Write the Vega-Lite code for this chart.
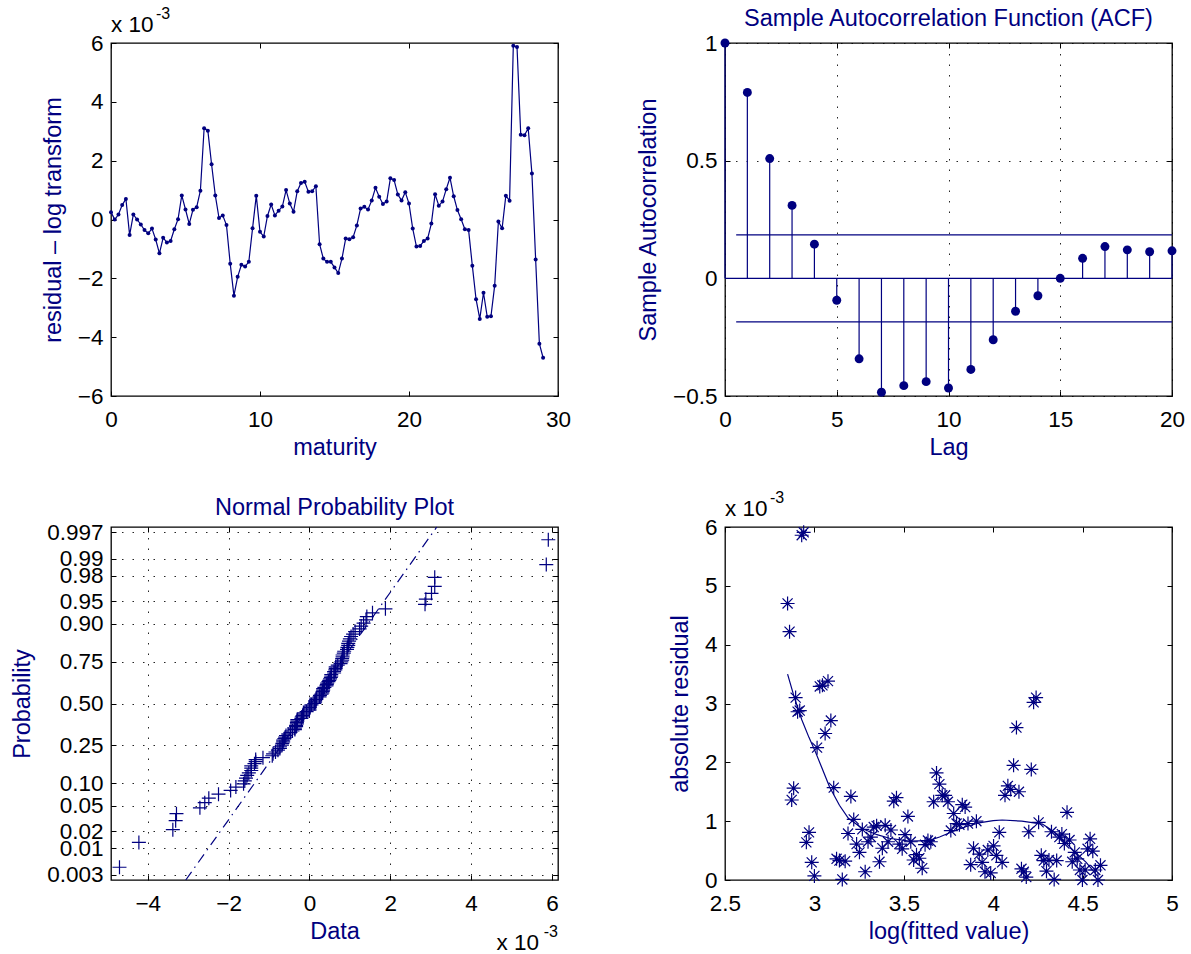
{
"$schema": "https://vega.github.io/schema/vega-lite/v6.json",
"background": "white",
"padding": {"left": 10, "top": 5, "right": 5, "bottom": 5},
"columns": 2,
"spacing": {"row": 131, "column": 167},
"bounds": "flush",
"config": {
  "font": "Liberation Sans",
  "view": {"stroke": "black", "strokeWidth": 1.3},
  "axis": {"domain": false, "labelFont": "Liberation Sans", "labelFontSize": 22.5, "labelColor": "black", "titleFont": "Liberation Sans", "titleFontSize": 23.5, "titleColor": "#000080", "titleFontWeight": "normal", "tickColor": "black", "tickSize": -5, "tickWidth": 1, "labelFlush": false, "labelOverlap": false, "labelBound": false, "grid": false, "gridColor": "black", "gridDash": [1.5, 9], "gridWidth": 1, "gridOpacity": 0.85},
  "axisX": {"labelPadding": 17, "titlePadding": 5},
  "axisY": {"labelPadding": 13, "titlePadding": 12},
  "title": {"font": "Liberation Sans", "fontSize": 23.5, "fontWeight": "normal", "color": "#000080", "offset": 2},
  "text": {"font": "Liberation Sans"}
},
"datasets": {
  "series": [
    {"maturity":0,"residual":0.25,"absres":0.25,"logfit":4.600},
    {"maturity":0.25,"residual":0.00,"absres":0.00,"logfit":4.586},
    {"maturity":0.5,"residual":0.17,"absres":0.17,"logfit":4.571},
    {"maturity":0.75,"residual":0.49,"absres":0.49,"logfit":4.557},
    {"maturity":1,"residual":0.70,"absres":0.70,"logfit":4.542},
    {"maturity":1.25,"residual":-0.53,"absres":0.53,"logfit":4.528},
    {"maturity":1.5,"residual":0.17,"absres":0.17,"logfit":4.514},
    {"maturity":1.75,"residual":0.00,"absres":0.00,"logfit":4.499},
    {"maturity":2,"residual":-0.17,"absres":0.17,"logfit":4.485},
    {"maturity":2.25,"residual":-0.36,"absres":0.36,"logfit":4.470},
    {"maturity":2.5,"residual":-0.47,"absres":0.47,"logfit":4.456},
    {"maturity":2.75,"residual":-0.31,"absres":0.31,"logfit":4.442},
    {"maturity":3,"residual":-0.68,"absres":0.68,"logfit":4.427},
    {"maturity":3.25,"residual":-1.15,"absres":1.15,"logfit":4.413},
    {"maturity":3.5,"residual":-0.62,"absres":0.62,"logfit":4.398},
    {"maturity":3.75,"residual":-0.78,"absres":0.78,"logfit":4.384},
    {"maturity":4,"residual":-0.73,"absres":0.73,"logfit":4.370},
    {"maturity":4.25,"residual":-0.33,"absres":0.33,"logfit":4.355},
    {"maturity":4.5,"residual":0.01,"absres":0.01,"logfit":4.341},
    {"maturity":4.75,"residual":0.82,"absres":0.82,"logfit":4.326},
    {"maturity":5,"residual":0.34,"absres":0.34,"logfit":4.312},
    {"maturity":5.25,"residual":-0.15,"absres":0.15,"logfit":4.298},
    {"maturity":5.5,"residual":0.33,"absres":0.33,"logfit":4.283},
    {"maturity":5.75,"residual":0.42,"absres":0.42,"logfit":4.269},
    {"maturity":6,"residual":0.98,"absres":0.98,"logfit":4.254},
    {"maturity":6.25,"residual":3.10,"absres":3.10,"logfit":4.240},
    {"maturity":6.5,"residual":3.02,"absres":3.02,"logfit":4.226},
    {"maturity":6.75,"residual":1.88,"absres":1.88,"logfit":4.213},
    {"maturity":7,"residual":0.82,"absres":0.82,"logfit":4.199},
    {"maturity":7.25,"residual":0.05,"absres":0.05,"logfit":4.185},
    {"maturity":7.5,"residual":0.14,"absres":0.14,"logfit":4.171},
    {"maturity":7.75,"residual":-0.19,"absres":0.19,"logfit":4.158},
    {"maturity":8,"residual":-1.50,"absres":1.50,"logfit":4.144},
    {"maturity":8.25,"residual":-2.59,"absres":2.59,"logfit":4.130},
    {"maturity":8.5,"residual":-1.95,"absres":1.95,"logfit":4.114},
    {"maturity":8.75,"residual":-1.54,"absres":1.54,"logfit":4.098},
    {"maturity":9,"residual":-1.60,"absres":1.60,"logfit":4.082},
    {"maturity":9.25,"residual":-1.44,"absres":1.44,"logfit":4.066},
    {"maturity":9.5,"residual":-0.30,"absres":0.30,"logfit":4.050},
    {"maturity":9.75,"residual":0.81,"absres":0.81,"logfit":4.034},
    {"maturity":10,"residual":-0.42,"absres":0.42,"logfit":4.018},
    {"maturity":10.25,"residual":-0.58,"absres":0.58,"logfit":4.002},
    {"maturity":10.5,"residual":0.12,"absres":0.12,"logfit":3.986},
    {"maturity":10.75,"residual":0.51,"absres":0.51,"logfit":3.970},
    {"maturity":11,"residual":0.14,"absres":0.14,"logfit":3.954},
    {"maturity":11.25,"residual":0.30,"absres":0.30,"logfit":3.938},
    {"maturity":11.5,"residual":0.44,"absres":0.44,"logfit":3.922},
    {"maturity":11.75,"residual":1.00,"absres":1.00,"logfit":3.906},
    {"maturity":12,"residual":0.54,"absres":0.54,"logfit":3.890},
    {"maturity":12.25,"residual":0.26,"absres":0.26,"logfit":3.874},
    {"maturity":12.5,"residual":0.96,"absres":0.96,"logfit":3.859},
    {"maturity":12.75,"residual":1.24,"absres":1.24,"logfit":3.843},
    {"maturity":13,"residual":1.28,"absres":1.28,"logfit":3.827},
    {"maturity":13.25,"residual":0.94,"absres":0.94,"logfit":3.811},
    {"maturity":13.5,"residual":0.96,"absres":0.96,"logfit":3.795},
    {"maturity":13.75,"residual":1.13,"absres":1.13,"logfit":3.779},
    {"maturity":14,"residual":-0.84,"absres":0.84,"logfit":3.763},
    {"maturity":14.25,"residual":-1.33,"absres":1.33,"logfit":3.747},
    {"maturity":14.5,"residual":-1.44,"absres":1.44,"logfit":3.731},
    {"maturity":14.75,"residual":-1.44,"absres":1.44,"logfit":3.715},
    {"maturity":15,"residual":-1.63,"absres":1.63,"logfit":3.699},
    {"maturity":15.25,"residual":-1.82,"absres":1.82,"logfit":3.683},
    {"maturity":15.5,"residual":-1.33,"absres":1.33,"logfit":3.667},
    {"maturity":15.75,"residual":-0.65,"absres":0.65,"logfit":3.651},
    {"maturity":16,"residual":-0.67,"absres":0.67,"logfit":3.635},
    {"maturity":16.25,"residual":-0.60,"absres":0.60,"logfit":3.619},
    {"maturity":16.5,"residual":-0.20,"absres":0.20,"logfit":3.603},
    {"maturity":16.75,"residual":0.37,"absres":0.37,"logfit":3.587},
    {"maturity":17,"residual":0.43,"absres":0.43,"logfit":3.571},
    {"maturity":17.25,"residual":0.34,"absres":0.34,"logfit":3.555},
    {"maturity":17.5,"residual":0.65,"absres":0.65,"logfit":3.539},
    {"maturity":17.75,"residual":1.08,"absres":1.08,"logfit":3.523},
    {"maturity":18,"residual":0.77,"absres":0.77,"logfit":3.507},
    {"maturity":18.25,"residual":0.53,"absres":0.53,"logfit":3.491},
    {"maturity":18.5,"residual":0.61,"absres":0.61,"logfit":3.475},
    {"maturity":18.75,"residual":1.40,"absres":1.40,"logfit":3.459},
    {"maturity":19,"residual":1.34,"absres":1.34,"logfit":3.444},
    {"maturity":19.25,"residual":0.85,"absres":0.85,"logfit":3.428},
    {"maturity":19.5,"residual":0.65,"absres":0.65,"logfit":3.412},
    {"maturity":19.75,"residual":0.93,"absres":0.93,"logfit":3.396},
    {"maturity":20,"residual":0.54,"absres":0.54,"logfit":3.380},
    {"maturity":20.25,"residual":-0.31,"absres":0.31,"logfit":3.364},
    {"maturity":20.5,"residual":-0.92,"absres":0.92,"logfit":3.348},
    {"maturity":20.75,"residual":-0.90,"absres":0.90,"logfit":3.332},
    {"maturity":21,"residual":-0.73,"absres":0.73,"logfit":3.316},
    {"maturity":21.25,"residual":-0.65,"absres":0.65,"logfit":3.300},
    {"maturity":21.5,"residual":-0.14,"absres":0.14,"logfit":3.284},
    {"maturity":21.75,"residual":0.86,"absres":0.86,"logfit":3.268},
    {"maturity":22,"residual":0.47,"absres":0.47,"logfit":3.252},
    {"maturity":22.25,"residual":0.61,"absres":0.61,"logfit":3.236},
    {"maturity":22.5,"residual":1.03,"absres":1.03,"logfit":3.220},
    {"maturity":22.75,"residual":1.42,"absres":1.42,"logfit":3.204},
    {"maturity":23,"residual":0.79,"absres":0.79,"logfit":3.188},
    {"maturity":23.25,"residual":0.32,"absres":0.32,"logfit":3.172},
    {"maturity":23.5,"residual":0.01,"absres":0.01,"logfit":3.156},
    {"maturity":23.75,"residual":-0.33,"absres":0.33,"logfit":3.140},
    {"maturity":24,"residual":-0.36,"absres":0.36,"logfit":3.124},
    {"maturity":24.25,"residual":-1.57,"absres":1.57,"logfit":3.108},
    {"maturity":24.5,"residual":-2.71,"absres":2.71,"logfit":3.092},
    {"maturity":24.75,"residual":-3.38,"absres":3.38,"logfit":3.076},
    {"maturity":25,"residual":-2.49,"absres":2.49,"logfit":3.060},
    {"maturity":25.25,"residual":-3.31,"absres":3.31,"logfit":3.045},
    {"maturity":25.5,"residual":-3.29,"absres":3.29,"logfit":3.030},
    {"maturity":25.75,"residual":-2.25,"absres":2.25,"logfit":3.015},
    {"maturity":26,"residual":-0.07,"absres":0.07,"logfit":3.000},
    {"maturity":26.25,"residual":-0.30,"absres":0.30,"logfit":2.985},
    {"maturity":26.5,"residual":0.81,"absres":0.81,"logfit":2.970},
    {"maturity":26.75,"residual":0.64,"absres":0.64,"logfit":2.955},
    {"maturity":27,"residual":5.91,"absres":5.91,"logfit":2.940},
    {"maturity":27.25,"residual":5.86,"absres":5.86,"logfit":2.929},
    {"maturity":27.5,"residual":2.88,"absres":2.88,"logfit":2.918},
    {"maturity":27.75,"residual":2.86,"absres":2.86,"logfit":2.906},
    {"maturity":28,"residual":3.10,"absres":3.10,"logfit":2.895},
    {"maturity":28.25,"residual":1.56,"absres":1.56,"logfit":2.884},
    {"maturity":28.5,"residual":-1.36,"absres":1.36,"logfit":2.873},
    {"maturity":28.75,"residual":-4.22,"absres":4.22,"logfit":2.861},
    {"maturity":29,"residual":-4.70,"absres":4.70,"logfit":2.850}
  ],
  "normal": [
    {"data":-4.70,"z":-2.630},{"data":-4.22,"z":-2.232},{"data":-3.38,"z":-2.026},{"data":-3.31,"z":-1.882},{"data":-3.29,"z":-1.769},
    {"data":-2.71,"z":-1.675},{"data":-2.59,"z":-1.593},{"data":-2.49,"z":-1.521},{"data":-2.25,"z":-1.456},{"data":-1.95,"z":-1.397},
    {"data":-1.82,"z":-1.342},{"data":-1.63,"z":-1.291},{"data":-1.60,"z":-1.243},{"data":-1.57,"z":-1.198},{"data":-1.54,"z":-1.156},
    {"data":-1.50,"z":-1.115},{"data":-1.44,"z":-1.076},{"data":-1.44,"z":-1.038},{"data":-1.44,"z":-1.002},{"data":-1.36,"z":-0.967},
    {"data":-1.33,"z":-0.934},{"data":-1.33,"z":-0.901},{"data":-1.15,"z":-0.870},{"data":-0.92,"z":-0.839},{"data":-0.90,"z":-0.809},
    {"data":-0.84,"z":-0.779},{"data":-0.78,"z":-0.750},{"data":-0.73,"z":-0.722},{"data":-0.73,"z":-0.695},{"data":-0.68,"z":-0.668},
    {"data":-0.67,"z":-0.641},{"data":-0.65,"z":-0.615},{"data":-0.65,"z":-0.589},{"data":-0.62,"z":-0.564},{"data":-0.60,"z":-0.539},
    {"data":-0.58,"z":-0.514},{"data":-0.53,"z":-0.490},{"data":-0.47,"z":-0.466},{"data":-0.42,"z":-0.442},{"data":-0.36,"z":-0.419},
    {"data":-0.36,"z":-0.396},{"data":-0.33,"z":-0.372},{"data":-0.33,"z":-0.350},{"data":-0.31,"z":-0.327},{"data":-0.31,"z":-0.304},
    {"data":-0.30,"z":-0.282},{"data":-0.30,"z":-0.260},{"data":-0.20,"z":-0.238},{"data":-0.19,"z":-0.216},{"data":-0.17,"z":-0.194},
    {"data":-0.15,"z":-0.172},{"data":-0.14,"z":-0.151},{"data":-0.07,"z":-0.129},{"data":0.00,"z":-0.107},{"data":0.00,"z":-0.086},
    {"data":0.01,"z":-0.064},{"data":0.01,"z":-0.043},{"data":0.05,"z":-0.021},{"data":0.12,"z":0},{"data":0.14,"z":0.021},
    {"data":0.14,"z":0.043},{"data":0.17,"z":0.064},{"data":0.17,"z":0.086},{"data":0.25,"z":0.107},{"data":0.26,"z":0.129},
    {"data":0.30,"z":0.151},{"data":0.32,"z":0.172},{"data":0.33,"z":0.194},{"data":0.34,"z":0.216},{"data":0.34,"z":0.238},
    {"data":0.37,"z":0.260},{"data":0.42,"z":0.282},{"data":0.43,"z":0.304},{"data":0.44,"z":0.327},{"data":0.47,"z":0.350},
    {"data":0.49,"z":0.372},{"data":0.51,"z":0.396},{"data":0.53,"z":0.419},{"data":0.54,"z":0.442},{"data":0.54,"z":0.466},
    {"data":0.61,"z":0.490},{"data":0.61,"z":0.514},{"data":0.64,"z":0.539},{"data":0.65,"z":0.564},{"data":0.65,"z":0.589},
    {"data":0.70,"z":0.615},{"data":0.77,"z":0.641},{"data":0.79,"z":0.668},{"data":0.81,"z":0.695},{"data":0.81,"z":0.722},
    {"data":0.82,"z":0.750},{"data":0.82,"z":0.779},{"data":0.85,"z":0.809},{"data":0.86,"z":0.839},{"data":0.93,"z":0.870},
    {"data":0.94,"z":0.901},{"data":0.96,"z":0.934},{"data":0.96,"z":0.967},{"data":0.98,"z":1.002},{"data":1.00,"z":1.038},
    {"data":1.03,"z":1.076},{"data":1.08,"z":1.115},{"data":1.13,"z":1.156},{"data":1.24,"z":1.198},{"data":1.28,"z":1.243},
    {"data":1.34,"z":1.291},{"data":1.40,"z":1.342},{"data":1.42,"z":1.397},{"data":1.56,"z":1.456},{"data":1.88,"z":1.521},
    {"data":2.86,"z":1.593},{"data":2.88,"z":1.675},{"data":3.02,"z":1.769},{"data":3.10,"z":1.882},{"data":3.10,"z":2.026},
    {"data":5.86,"z":2.232},{"data":5.91,"z":2.630}
  ],
  "normline": [{"data": -3.06, "z": -2.835}, {"data": 3.15, "z": 2.835}],
  "acf": [
    {"lag":0,"acf":1.0},{"lag":1,"acf":0.79},{"lag":2,"acf":0.509},{"lag":3,"acf":0.31},{"lag":4,"acf":0.145},
    {"lag":5,"acf":-0.093},{"lag":6,"acf":-0.342},{"lag":7,"acf":-0.484},{"lag":8,"acf":-0.456},{"lag":9,"acf":-0.439},
    {"lag":10,"acf":-0.466},{"lag":11,"acf":-0.387},{"lag":12,"acf":-0.261},{"lag":13,"acf":-0.14},{"lag":14,"acf":-0.074},
    {"lag":15,"acf":0.0},{"lag":16,"acf":0.085},{"lag":17,"acf":0.135},{"lag":18,"acf":0.121},{"lag":19,"acf":0.113},{"lag":20,"acf":0.117}
  ],
  "acflines": [
    {"from":0.5,"to":20,"level":0.185},
    {"from":0.5,"to":20,"level":-0.185},
    {"from":0,"to":20,"level":0}
  ],
  "smooth": [
    {"logfit":2.85,"fit":3.50},{"logfit":2.89,"fit":3.08},{"logfit":2.93,"fit":2.72},{"logfit":2.97,"fit":2.42},
    {"logfit":3.00,"fit":2.22},{"logfit":3.04,"fit":1.92},{"logfit":3.085,"fit":1.58},{"logfit":3.14,"fit":1.27},
    {"logfit":3.19,"fit":1.05},{"logfit":3.27,"fit":0.87},{"logfit":3.35,"fit":0.77},{"logfit":3.42,"fit":0.71},
    {"logfit":3.53,"fit":0.66},{"logfit":3.64,"fit":0.67},{"logfit":3.70,"fit":0.73},{"logfit":3.77,"fit":0.82},
    {"logfit":3.85,"fit":0.91},{"logfit":3.92,"fit":0.97},{"logfit":4.00,"fit":1.01},{"logfit":4.05,"fit":1.02},
    {"logfit":4.16,"fit":1.00},{"logfit":4.275,"fit":0.95},{"logfit":4.33,"fit":0.84},{"logfit":4.39,"fit":0.68},
    {"logfit":4.45,"fit":0.50},{"logfit":4.52,"fit":0.30},{"logfit":4.585,"fit":0.06}
  ],
  "note": [{"label": "x 10", "exp": "-3"}]
},
"concat": [
  {
    "width": 447, "height": 353,
    "layer": [
      {"data": {"name": "series"}, "mark": {"type": "line", "color": "#000080", "strokeWidth": 1.2},
       "encoding": {
         "x": {"field": "maturity", "type": "quantitative", "scale": {"domain": [0, 30], "nice": false, "zero": false}, "axis": {"values": [0, 10, 20, 30], "title": "maturity"}},
         "y": {"field": "residual", "type": "quantitative", "scale": {"domain": [-6, 6], "nice": false, "zero": false}, "axis": {"values": [-6, -4, -2, 0, 2, 4, 6], "title": "residual – log transform"}}
       }},
      {"data": {"name": "series"}, "mark": {"type": "point", "filled": true, "color": "#000080", "size": 16, "opacity": 1},
       "encoding": {
         "x": {"field": "maturity", "type": "quantitative", "axis": null},
         "y": {"field": "residual", "type": "quantitative", "axis": null}
       }},
      {"data": {"name": "series"}, "mark": {"type": "point", "opacity": 0},
       "encoding": {
         "x": {"field": "maturity", "type": "quantitative", "axis": {"orient": "top", "values": [0, 10, 20, 30], "labels": false, "title": null}},
         "y": {"field": "residual", "type": "quantitative", "axis": {"orient": "right", "values": [-6, -4, -2, 0, 2, 4, 6], "labels": false, "title": null}}
       }},
      {"data": {"name": "note"}, "mark": {"type": "text", "align": "left", "baseline": "alphabetic", "dy": -11, "fontSize": 22.5, "color": "black"},
       "encoding": {
         "x": {"datum": 0, "type": "quantitative", "axis": null},
         "y": {"datum": 6, "type": "quantitative", "axis": null},
         "text": {"field": "label"}
       }},
      {"data": {"name": "note"}, "mark": {"type": "text", "align": "left", "baseline": "alphabetic", "dx": 45, "dy": -24, "fontSize": 16, "color": "black"},
       "encoding": {
         "x": {"datum": 0, "type": "quantitative", "axis": null},
         "y": {"datum": 6, "type": "quantitative", "axis": null},
         "text": {"field": "exp"}
       }}
    ],
    "resolve": {"axis": {"x": "independent", "y": "independent"}}
  },
  {
    "width": 447, "height": 353,
    "title": {"text": "Sample Autocorrelation Function (ACF)"},
    "layer": [
      {"data": {"name": "acf"}, "mark": {"type": "rule", "color": "#000080", "strokeWidth": 1.2},
       "encoding": {
         "x": {"field": "lag", "type": "quantitative", "scale": {"domain": [0, 20], "nice": false, "zero": false}, "axis": {"values": [0, 5, 10, 15, 20], "title": "Lag", "grid": true}},
         "y": {"field": "acf", "type": "quantitative", "scale": {"domain": [-0.5, 1], "nice": false, "zero": false}, "axis": {"values": [-0.5, 0, 0.5, 1], "format": "~g", "title": "Sample Autocorrelation", "grid": true}},
         "y2": {"datum": 0}
       }},
      {"data": {"name": "acflines"}, "mark": {"type": "rule", "color": "#000080", "strokeWidth": 1.3},
       "encoding": {
         "x": {"field": "from", "type": "quantitative", "axis": null},
         "x2": {"field": "to"},
         "y": {"field": "level", "type": "quantitative", "axis": null}
       }},
      {"data": {"name": "acf"}, "mark": {"type": "point", "filled": true, "color": "#000080", "size": 80, "opacity": 1},
       "encoding": {
         "x": {"field": "lag", "type": "quantitative", "axis": null},
         "y": {"field": "acf", "type": "quantitative", "axis": null}
       }},
      {"data": {"name": "acf"}, "mark": {"type": "point", "opacity": 0},
       "encoding": {
         "x": {"field": "lag", "type": "quantitative", "axis": {"orient": "top", "values": [0, 5, 10, 15, 20], "labels": false, "title": null}},
         "y": {"field": "acf", "type": "quantitative", "axis": {"orient": "right", "values": [-0.5, 0, 0.5, 1], "labels": false, "title": null}}
       }}
    ],
    "resolve": {"axis": {"x": "independent", "y": "independent"}}
  },
  {
    "width": 447, "height": 353,
    "title": {"text": "Normal Probability Plot"},
    "layer": [
      {"data": {"name": "normal"}, "mark": {"type": "point", "shape": "M-1,0L1,0M0,-1L0,1", "filled": false, "stroke": "#000080", "strokeWidth": 1.2, "size": 196, "opacity": 1},
       "encoding": {
         "x": {"field": "data", "type": "quantitative", "scale": {"domain": [-4.91, 6.15], "nice": false, "zero": false}, "axis": {"values": [-4, -2, 0, 2, 4, 6], "title": "Data", "grid": true}},
         "y": {"field": "z", "type": "quantitative", "scale": {"domain": [-2.835, 2.835], "nice": false, "zero": false}, "axis": {"values": [-2.748, -2.326, -2.054, -1.645, -1.282, -0.674, 0, 0.674, 1.282, 1.645, 2.054, 2.326, 2.748], "title": "Probability", "grid": true,
           "labelExpr": "datum.value < -2.5 ? '0.003' : datum.value < -2.2 ? '0.01' : datum.value < -1.9 ? '0.02' : datum.value < -1.4 ? '0.05' : datum.value < -1 ? '0.10' : datum.value < -0.3 ? '0.25' : datum.value < 0.3 ? '0.50' : datum.value < 1 ? '0.75' : datum.value < 1.4 ? '0.90' : datum.value < 1.9 ? '0.95' : datum.value < 2.2 ? '0.98' : datum.value < 2.5 ? '0.99' : '0.997'"}}
       }},
      {"data": {"name": "normline"}, "mark": {"type": "line", "color": "#000080", "strokeWidth": 1.2, "strokeDash": [10, 5, 1.5, 5]},
       "encoding": {
         "x": {"field": "data", "type": "quantitative", "axis": null},
         "y": {"field": "z", "type": "quantitative", "axis": null}
       }},
      {"data": {"name": "normal"}, "mark": {"type": "point", "opacity": 0},
       "encoding": {
         "x": {"field": "data", "type": "quantitative", "axis": {"orient": "top", "values": [-4, -2, 0, 2, 4, 6], "labels": false, "title": null}},
         "y": {"field": "z", "type": "quantitative", "axis": {"orient": "right", "values": [-2.748, -2.326, -2.054, -1.645, -1.282, -0.674, 0, 0.674, 1.282, 1.645, 2.054, 2.326, 2.748], "labels": false, "title": null}}
       }},
      {"data": {"name": "note"}, "mark": {"type": "text", "align": "right", "baseline": "alphabetic", "dx": -19, "dy": 70, "fontSize": 22.5, "color": "black"},
       "encoding": {
         "x": {"datum": 6.15, "type": "quantitative", "axis": null},
         "y": {"datum": -2.835, "type": "quantitative", "axis": null},
         "text": {"field": "label"}
       }},
      {"data": {"name": "note"}, "mark": {"type": "text", "align": "right", "baseline": "alphabetic", "dx": 0, "dy": 57, "fontSize": 16, "color": "black"},
       "encoding": {
         "x": {"datum": 6.15, "type": "quantitative", "axis": null},
         "y": {"datum": -2.835, "type": "quantitative", "axis": null},
         "text": {"field": "exp"}
       }}
    ],
    "resolve": {"axis": {"x": "independent", "y": "independent"}}
  },
  {
    "width": 447, "height": 353,
    "layer": [
      {"data": {"name": "series"}, "mark": {"type": "point", "shape": "M-1,0L1,0M0,-1L0,1M-0.72,-0.72L0.72,0.72M-0.72,0.72L0.72,-0.72", "filled": false, "stroke": "#000080", "strokeWidth": 1.2, "size": 196, "opacity": 1},
       "encoding": {
         "x": {"field": "logfit", "type": "quantitative", "scale": {"domain": [2.5, 5], "nice": false, "zero": false}, "axis": {"values": [2.5, 3, 3.5, 4, 4.5, 5], "format": "~g", "title": "log(fitted value)"}},
         "y": {"field": "absres", "type": "quantitative", "scale": {"domain": [0, 6], "nice": false, "zero": false}, "axis": {"values": [0, 1, 2, 3, 4, 5, 6], "title": "absolute residual"}}
       }},
      {"data": {"name": "smooth"}, "mark": {"type": "line", "color": "#000080", "strokeWidth": 1.2},
       "encoding": {
         "x": {"field": "logfit", "type": "quantitative", "axis": null},
         "y": {"field": "fit", "type": "quantitative", "axis": null}
       }},
      {"data": {"name": "series"}, "mark": {"type": "point", "opacity": 0},
       "encoding": {
         "x": {"field": "logfit", "type": "quantitative", "axis": {"orient": "top", "values": [2.5, 3, 3.5, 4, 4.5, 5], "labels": false, "title": null}},
         "y": {"field": "absres", "type": "quantitative", "axis": {"orient": "right", "values": [0, 1, 2, 3, 4, 5, 6], "labels": false, "title": null}}
       }},
      {"data": {"name": "note"}, "mark": {"type": "text", "align": "left", "baseline": "alphabetic", "dy": -11, "fontSize": 22.5, "color": "black"},
       "encoding": {
         "x": {"datum": 2.5, "type": "quantitative", "axis": null},
         "y": {"datum": 6, "type": "quantitative", "axis": null},
         "text": {"field": "label"}
       }},
      {"data": {"name": "note"}, "mark": {"type": "text", "align": "left", "baseline": "alphabetic", "dx": 45, "dy": -24, "fontSize": 16, "color": "black"},
       "encoding": {
         "x": {"datum": 2.5, "type": "quantitative", "axis": null},
         "y": {"datum": 6, "type": "quantitative", "axis": null},
         "text": {"field": "exp"}
       }}
    ],
    "resolve": {"axis": {"x": "independent", "y": "independent"}}
  }
]
}
